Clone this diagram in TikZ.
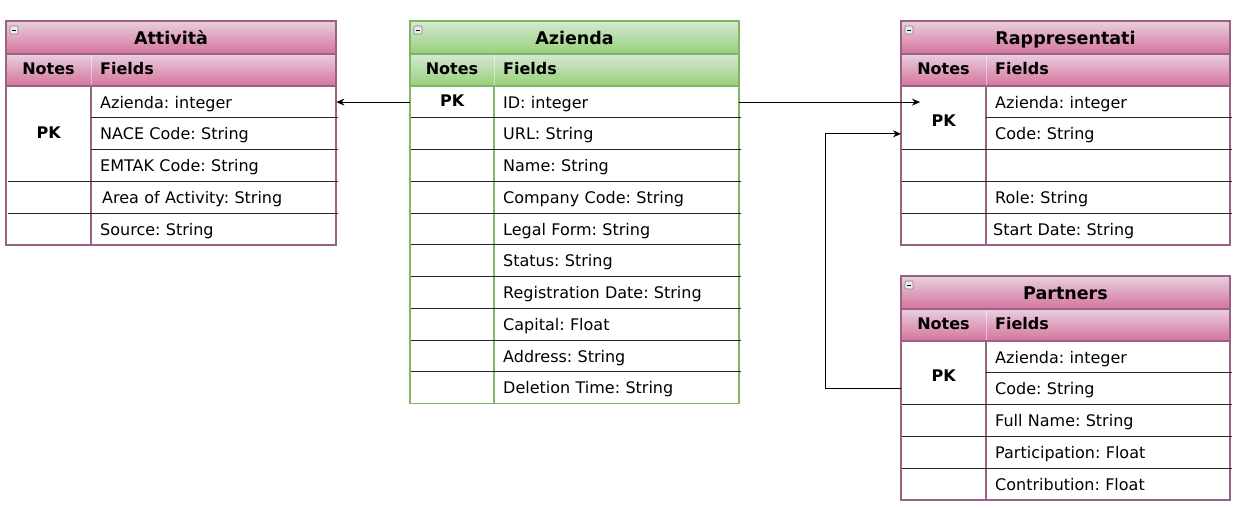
\documentclass[tikz,border=0pt]{standalone}
\usepackage{fontspec}
\setmainfont{DejaVu Sans}
\frenchspacing
\usetikzlibrary{arrows.meta}
\definecolor{pinkline}{HTML}{996185}
\definecolor{pinktop}{HTML}{E8CFDD}
\definecolor{pinkbot}{HTML}{D5739D}
\definecolor{greenline}{HTML}{82B366}
\definecolor{greentop}{HTML}{D5E8D4}
\definecolor{greenbot}{HTML}{97D077}
\tikzset{pinkhead/.style = {draw = pinkline, line width = 1.6, top color = pinktop, bottom color = pinkbot}}
\tikzset{greenhead/.style = {draw = greenline, line width = 1.6, top color = greentop, bottom color = greenbot}}
\tikzset{pinkbody/.style = {draw = pinkline, line width = 1.6}}
\tikzset{greenbody/.style = {draw = greenline, line width = 1.6}}
\tikzset{headsep/.style = {draw = white, opacity = 0.45, line width = 0.8}}
\tikzset{rowline/.style = {draw = black!85, line width = 0.8}}
\tikzset{minusbox/.style = {draw = gray, fill = gray!15, line width = 0.6, rounded corners = 1}}
\tikzset{titletext/.style = {inner sep = 0, text height = 13, text depth = 4,
                             font = \fontsize{17.5}{20}\selectfont\bfseries}}
\tikzset{boldtext/.style = {inner sep = 0, text height = 12, text depth = 3.5,
                            font = \fontsize{16}{19}\selectfont\bfseries}}
\tikzset{notecell/.style = {anchor = north west, inner sep = 0, minimum width = 85,
                            text height = 12, text depth = 3.5,
                            font = \fontsize{16}{19}\selectfont\bfseries}}
\tikzset{fieldcell/.style = {anchor = north west, inner xsep = 9, inner ysep = 0, text width = 227,
                             minimum height = 31.75, text height = 14, text depth = 2,
                             font = \fontsize{16}{19}\selectfont}}
\tikzset{link/.style = {-{Stealth[length = 8pt, width = 7pt]}, line width = 0.9}}

\begin{document}
\begin{tikzpicture}[x = 1pt, y = -1pt]
      \useasboundingbox (0, 0) rectangle (1235, 507);

      % Attivita
      \draw [pinkhead] (6, 21) rectangle (336, 54);
      \draw [pinkhead] (6, 54) rectangle (336, 86);
      \draw [headsep] (91, 55) -- (91, 85);
      \draw [minusbox] (10, 26) rectangle (18, 34);
      \draw (12, 30) -- (16, 30);
      \node [titletext] (at-title) at (171, 39.5) {Attività};
      \node [boldtext] (at-notes) at (48.5, 70.5) {Notes};
      \node [boldtext, anchor = west] (at-fields) at (100, 70.5) {Fields};
      \draw [pinkbody] (6, 86) rectangle (336, 244.75);
      \draw [pinkbody] (91, 86) -- (91, 244.75);
      \node [notecell, minimum height = 95.25] (at-pk) at (6, 86) {PK};
      \foreach \txt [count = \i] in {Azienda: integer, NACE Code: String, EMTAK Code: String,
                                     {\hspace*{2pt}Area of Activity: String}, Source: String}
        \node [fieldcell] (at-f\i) at (91, {86 + (\i - 1) * 31.75}) {\txt};
      \foreach \y in {117.75, 149.5}
        \draw [rowline] (91, \y) -- (338, \y);
      \foreach \y in {181.25, 213}
        \draw [rowline] (8, \y) -- (338, \y);

      % Azienda
      \draw [greenhead] (410, 21) rectangle (739, 54);
      \draw [greenhead] (410, 54) rectangle (739, 86);
      \draw [headsep] (494, 55) -- (494, 85);
      \draw [minusbox] (414, 26) rectangle (422, 34);
      \draw (416, 30) -- (420, 30);
      \node [titletext] (az-title) at (574.5, 39.5) {Azienda};
      \node [boldtext] (az-notes) at (452, 70.5) {Notes};
      \node [boldtext, anchor = west] (az-fields) at (503, 70.5) {Fields};
      \draw [greenbody] (410, 86) rectangle (739, 403.5);
      \draw [greenbody] (494, 86) -- (494, 403.5);
      \node [notecell, minimum width = 84, minimum height = 31.75] (az-pk) at (410, 86) {PK};
      \foreach \txt [count = \i] in {ID: integer, URL: String, Name: String, Company Code: String,
                                     Legal Form: String, Status: String, Registration Date: String,
                                     Capital: Float, Address: String, Deletion Time: String}
        \node [fieldcell] (az-f\i) at (494, {86 + (\i - 1) * 31.75}) {\txt};
      \foreach \k in {1, ..., 9}
        \draw [rowline] (411, {86 + \k * 31.75}) -- (741, {86 + \k * 31.75});

      % Rappresentati
      \draw [pinkhead] (901, 21) rectangle (1230, 54);
      \draw [pinkhead] (901, 54) rectangle (1230, 86);
      \draw [headsep] (986, 55) -- (986, 85);
      \draw [minusbox] (905, 26) rectangle (913, 34);
      \draw (907, 30) -- (911, 30);
      \node [titletext] (rp-title) at (1065.5, 39.5) {Rappresentati};
      \node [boldtext] (rp-notes) at (943.5, 70.5) {Notes};
      \node [boldtext, anchor = west] (rp-fields) at (995, 70.5) {Fields};
      \draw [pinkbody] (901, 86) rectangle (1230, 244.75);
      \draw [pinkbody] (986, 86) -- (986, 244.75);
      \node [notecell, minimum height = 63.5, yshift = -4] (rp-pk) at (901, 86) {PK};
      \foreach \txt [count = \i] in {Azienda: integer, Code: String, {},
                                     Role: String, {\hspace*{-2pt}Start Date: String}}
        \node [fieldcell] (rp-f\i) at (986, {86 + (\i - 1) * 31.75}) {\txt};
      \draw [rowline] (986, 117.75) -- (1232, 117.75);
      \foreach \y in {149.5, 181.25, 213}
        \draw [rowline] (902, \y) -- (1232, \y);

      % Partners
      \draw [pinkhead] (901, 276) rectangle (1230, 309);
      \draw [pinkhead] (901, 309) rectangle (1230, 341);
      \draw [headsep] (986, 310) -- (986, 340);
      \draw [minusbox] (905, 281) rectangle (913, 289);
      \draw (907, 285) -- (911, 285);
      \node [titletext] (pa-title) at (1065.5, 294.5) {Partners};
      \node [boldtext] (pa-notes) at (943.5, 325.5) {Notes};
      \node [boldtext, anchor = west] (pa-fields) at (995, 325.5) {Fields};
      \draw [pinkbody] (901, 341) rectangle (1230, 499.75);
      \draw [pinkbody] (986, 341) -- (986, 499.75);
      \node [notecell, minimum height = 63.5, yshift = -4] (pa-pk) at (901, 341) {PK};
      \foreach \txt [count = \i] in {Azienda: integer, Code: String, Full Name: String,
                                     Participation: Float, Contribution: Float}
        \node [fieldcell] (pa-f\i) at (986, {341 + (\i - 1) * 31.75}) {\txt};
      \draw [rowline] (986, 372.75) -- (1232, 372.75);
      \foreach \y in {404.5, 436.25, 468}
        \draw [rowline] (902, \y) -- (1232, \y);

      % links
      \path (rp-pk.west |- az-f1.east) ++(19, 0) coordinate (rp-in);
      \draw [link] (az-pk.west) -- (at-f1.east);
      \draw [link] (az-f1.east) -- (rp-in);
      \draw [link] (pa-pk.west |- pa-f2.west) -- ++(-76, 0) |- (rp-pk.west |- rp-f2.west);
\end{tikzpicture}
\end{document}
